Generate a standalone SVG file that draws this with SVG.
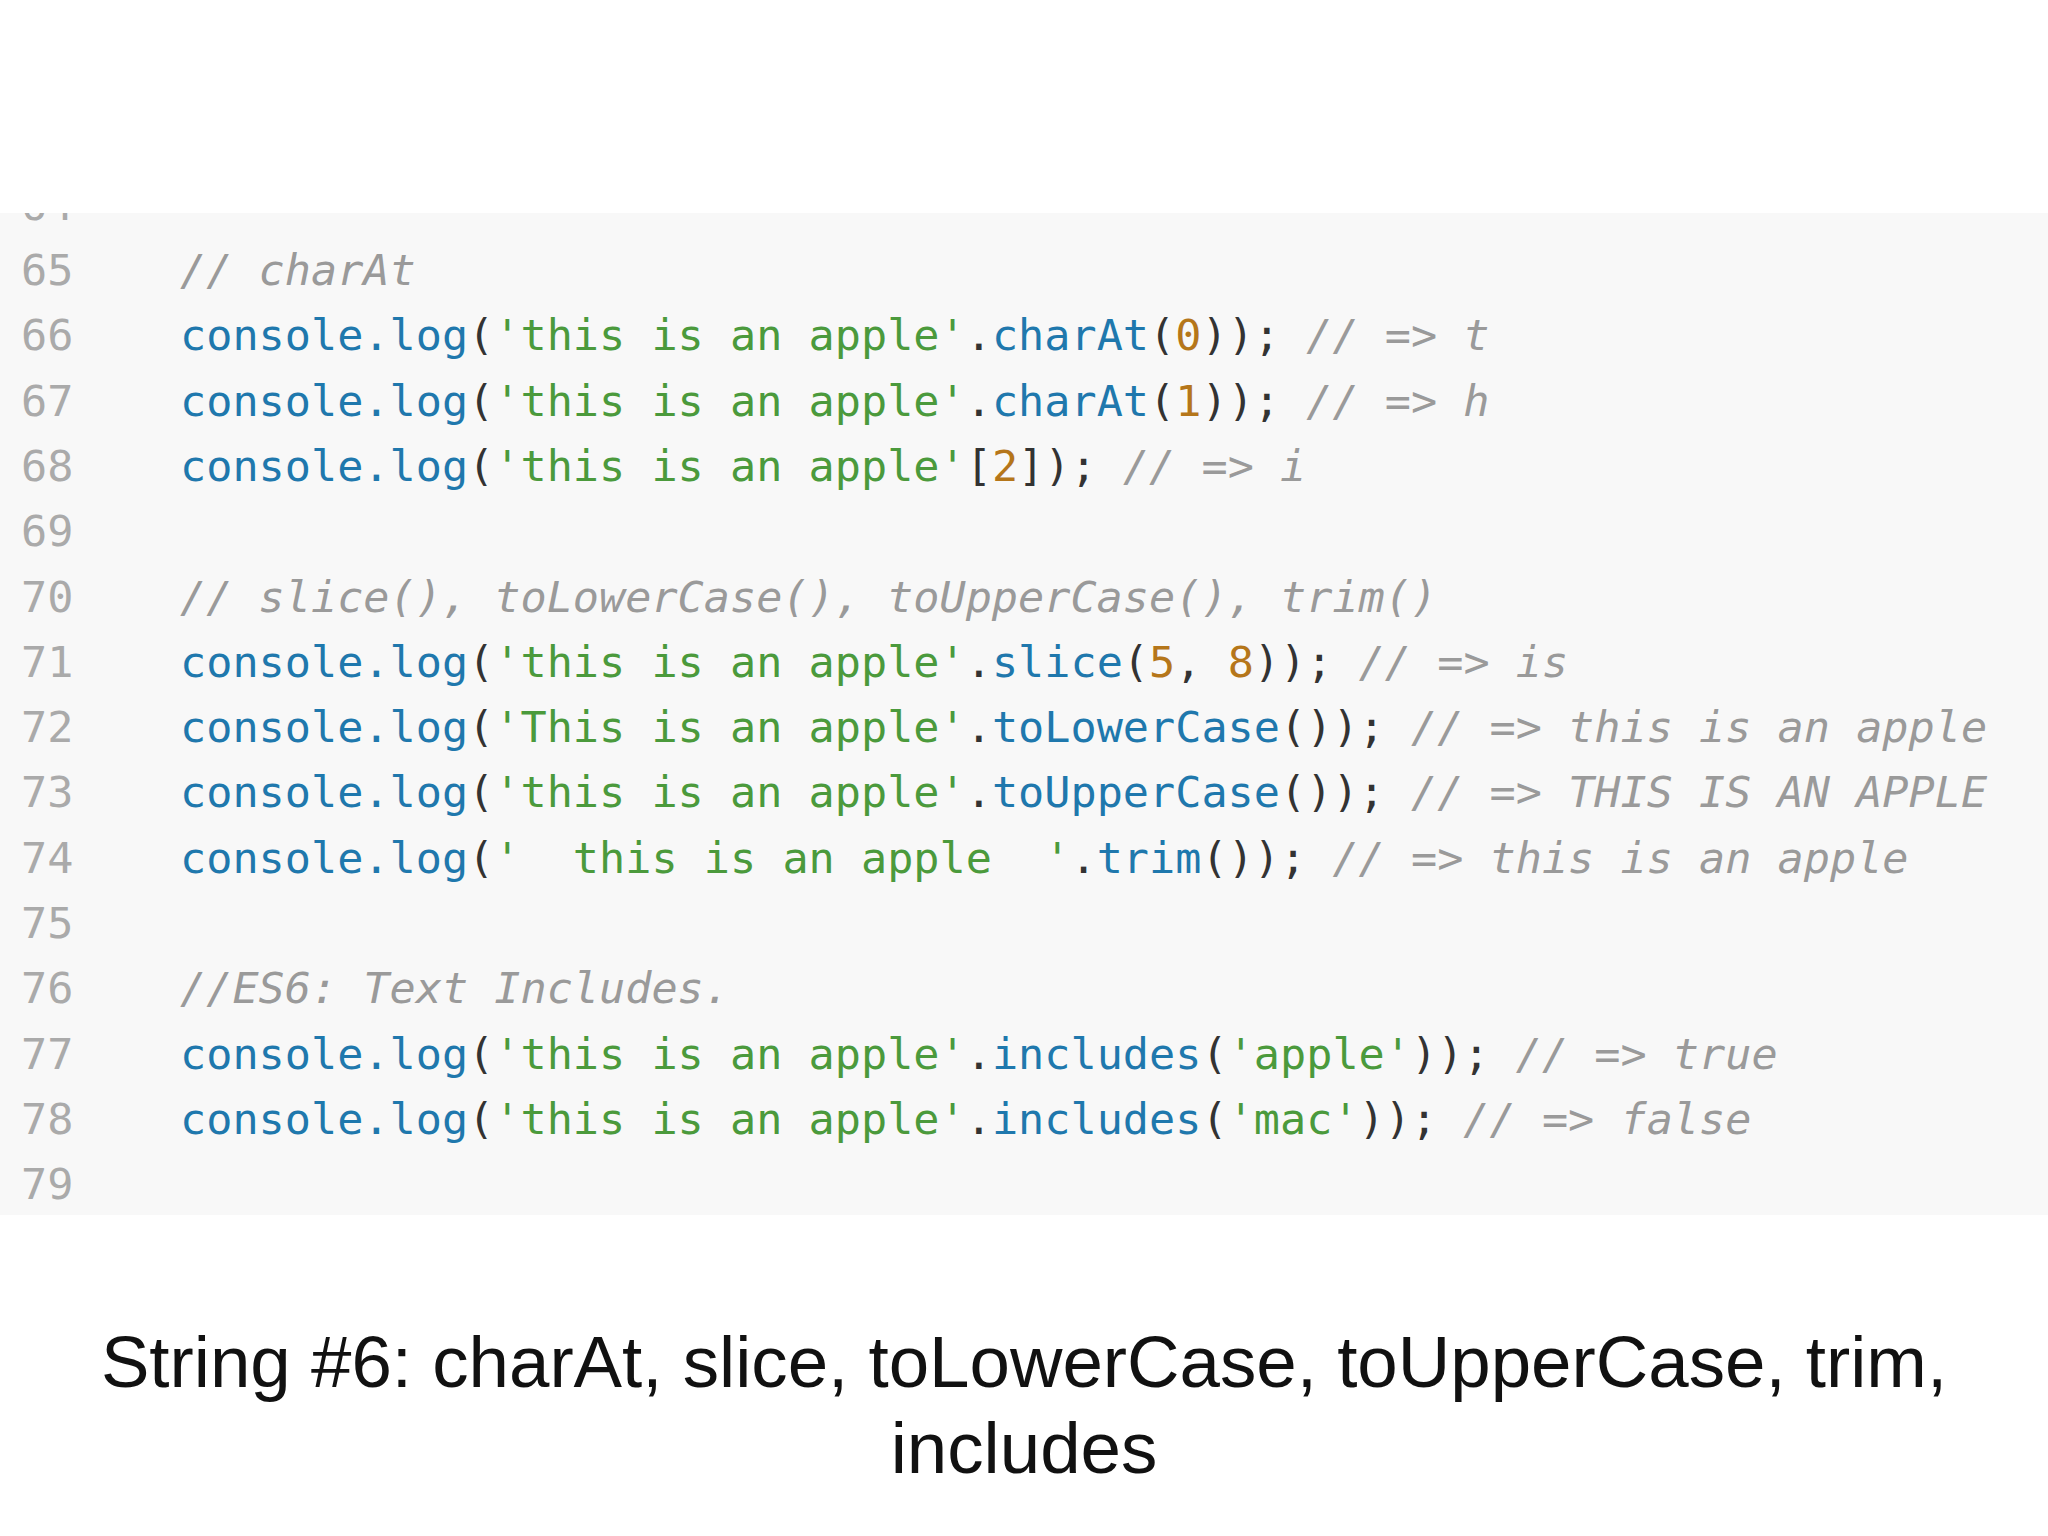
<svg xmlns="http://www.w3.org/2000/svg" width="2048" height="1536" viewBox="0 0 2048 1536">
<style>
.c{font-family:"DejaVu Sans Mono","Liberation Mono",monospace;font-size:43.5px;white-space:pre;fill:#333}
.n{fill:#aaaaaa}.k{fill:#1f78ad}.s{fill:#4b9a3c}.m{fill:#9a9a9a;font-style:italic}.d{fill:#b5761a}
.cap{font-family:"Liberation Sans",Arial,sans-serif;font-size:72.7px;fill:#111;text-anchor:middle}
</style>
<defs><clipPath id="cb"><rect x="0" y="213" width="2048" height="1002"/></clipPath></defs>
<rect width="2048" height="1536" fill="#fff"/>
<g id="code" clip-path="url(#cb)">
<rect x="0" y="213" width="2048" height="1002" fill="#f8f8f8"/>
<g class="c">
<text x="21" y="220" class="n">64</text>
<text x="21" y="285" class="n">65</text><text x="180" y="285" class="m">// charAt</text>
<text x="21" y="350" class="n">66</text><text x="180" y="350"><tspan class="k">console.log</tspan>(<tspan class="s">'this is an apple'</tspan>.<tspan class="k">charAt</tspan>(<tspan class="d">0</tspan>)); <tspan class="m">// =&gt; t</tspan></text>
<text x="21" y="416" class="n">67</text><text x="180" y="416"><tspan class="k">console.log</tspan>(<tspan class="s">'this is an apple'</tspan>.<tspan class="k">charAt</tspan>(<tspan class="d">1</tspan>)); <tspan class="m">// =&gt; h</tspan></text>
<text x="21" y="481" class="n">68</text><text x="180" y="481"><tspan class="k">console.log</tspan>(<tspan class="s">'this is an apple'</tspan>[<tspan class="d">2</tspan>]); <tspan class="m">// =&gt; i</tspan></text>
<text x="21" y="546" class="n">69</text>
<text x="21" y="612" class="n">70</text><text x="180" y="612" class="m">// slice(), toLowerCase(), toUpperCase(), trim()</text>
<text x="21" y="677" class="n">71</text><text x="180" y="677"><tspan class="k">console.log</tspan>(<tspan class="s">'this is an apple'</tspan>.<tspan class="k">slice</tspan>(<tspan class="d">5</tspan>, <tspan class="d">8</tspan>)); <tspan class="m">// =&gt; is</tspan></text>
<text x="21" y="742" class="n">72</text><text x="180" y="742"><tspan class="k">console.log</tspan>(<tspan class="s">'This is an apple'</tspan>.<tspan class="k">toLowerCase</tspan>()); <tspan class="m">// =&gt; this is an apple</tspan></text>
<text x="21" y="807" class="n">73</text><text x="180" y="807"><tspan class="k">console.log</tspan>(<tspan class="s">'this is an apple'</tspan>.<tspan class="k">toUpperCase</tspan>()); <tspan class="m">// =&gt; THIS IS AN APPLE</tspan></text>
<text x="21" y="873" class="n">74</text><text x="180" y="873"><tspan class="k">console.log</tspan>(<tspan class="s">'&#160; this is an apple &#160;'</tspan>.<tspan class="k">trim</tspan>()); <tspan class="m">// =&gt; this is an apple</tspan></text>
<text x="21" y="938" class="n">75</text>
<text x="21" y="1003" class="n">76</text><text x="180" y="1003" class="m">//ES6: Text Includes.</text>
<text x="21" y="1069" class="n">77</text><text x="180" y="1069"><tspan class="k">console.log</tspan>(<tspan class="s">'this is an apple'</tspan>.<tspan class="k">includes</tspan>(<tspan class="s">'apple'</tspan>)); <tspan class="m">// =&gt; true</tspan></text>
<text x="21" y="1134" class="n">78</text><text x="180" y="1134"><tspan class="k">console.log</tspan>(<tspan class="s">'this is an apple'</tspan>.<tspan class="k">includes</tspan>(<tspan class="s">'mac'</tspan>)); <tspan class="m">// =&gt; false</tspan></text>
<text x="21" y="1199" class="n">79</text>
</g>
</g>
<g id="caption">
<text class="cap" x="1024" y="1387">String #6: charAt, slice, toLowerCase, toUpperCase, trim,</text>
<text class="cap" x="1024" y="1473">includes</text>
</g>
</svg>
